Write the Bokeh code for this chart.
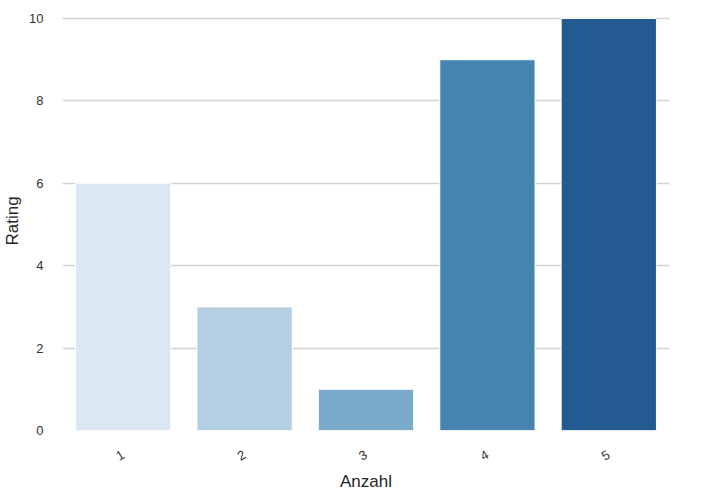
import math
from bokeh.plotting import figure
from bokeh.models import ColumnDataSource, Range1d, FactorRange
from bokeh.embed import file_html
from bokeh.resources import INLINE

categories = ["1", "2", "3", "4", "5"]
ratings = [6, 3, 1, 9, 10]
colors = ["#dbe7f3", "#b4cfe2", "#7aaac9", "#4884b2", "#225b92"]
y_ticks = [0, 2, 4, 6, 8, 10]

source = ColumnDataSource(dict(cat=categories, val=ratings, color=colors))

p = figure(frame_width=607, frame_height=419, x_range=FactorRange(*categories),
           y_range=Range1d(0, 10.17), output_backend="svg", toolbar_location=None,
           min_border_left=53, min_border_right=12, min_border_top=11, min_border_bottom=50)
p.x_range.range_padding = 0
p.vbar(x="cat", top="val", width=0.785, bottom=0, fill_color="color",
       line_color="white", line_width=1, source=source)

p.outline_line_color = None
p.background_fill_color = "white"
p.border_fill_color = "white"
p.xgrid.grid_line_color = None
p.ygrid.grid_line_color = "#d3d3d3"
p.ygrid.grid_line_width = 1.3
p.ygrid.ticker = y_ticks
p.yaxis.ticker = y_ticks

for ax in (p.xaxis, p.yaxis):
    ax.axis_line_color = None
    ax.major_tick_line_color = None
    ax.minor_tick_line_color = None
    ax.major_label_text_font = "Liberation Sans"
    ax.major_label_text_color = "#333333"
    ax.major_label_text_font_size = "13px"
    ax.axis_label_text_font = "Liberation Sans"
    ax.axis_label_text_font_style = "normal"
    ax.axis_label_text_color = "#262626"
    ax.axis_label_text_font_size = "17px"

p.xaxis.axis_label = "Anzahl"
p.yaxis.axis_label = "Rating"
p.xaxis.major_label_orientation = math.radians(30)
p.xaxis.major_label_standoff = 17
p.yaxis.major_label_standoff = 13
p.xaxis.axis_label_standoff = 4
p.yaxis.axis_label_standoff = 4

open("out.html", "w").write(file_html(p, INLINE))
